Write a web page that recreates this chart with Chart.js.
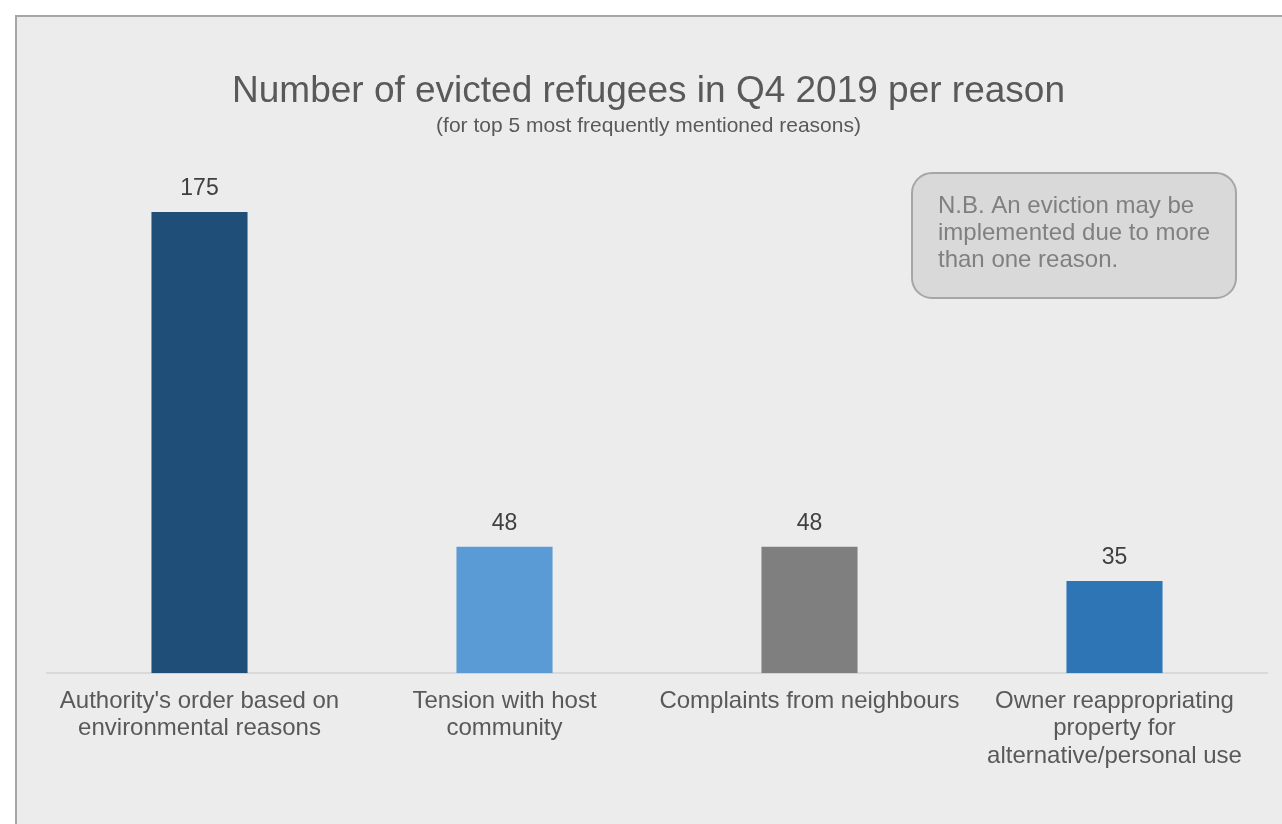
<!DOCTYPE html>
<html>
<head>
<meta charset="utf-8">
<script src="https://cdn.jsdelivr.net/npm/chart.js@4"></script>
<style>
    html, body { margin: 0; padding: 0; background: #ffffff; overflow: hidden; }
    #frame {
        position: absolute; left: 15px; top: 15px;
        width: 1265px; height: 807px;
        border-left: 2px solid #a6a6a6; border-top: 2px solid #a6a6a6;
        background: #ececec;
    }
</style>
</head>
<body>
<div id="frame"><canvas id="evictionsChart" width="1265" height="807"></canvas></div>
<script>
const reasons = [
    ["Authority's order based on", "environmental reasons"],
    ["Tension with host", "community"],
    ["Complaints from neighbours"],
    ["Owner reappropriating", "property for", "alternative/personal use"]
];
const evicted = [175, 48, 48, 35];
const barColors = ['#1f4e79', '#5b9bd5', '#7f7f7f', '#2e75b6'];
const titleText = 'Number of evicted refugees in Q4 2019 per reason';
const subtitleText = '(for top 5 most frequently mentioned reasons)';
const noteLines = ['N.B. An eviction may be', 'implemented due to more', 'than one reason.'];

const fontFamily = '"Liberation Sans", Arial, sans-serif';

// title, value labels above the bars and the grey note box
const extrasPlugin = {
    id: 'extras',
    afterDatasetsDraw(chart) {
        const ctx = chart.ctx;
        ctx.save();
        ctx.textAlign = 'center';
        ctx.textBaseline = 'middle';

        const mid = chart.width / 2 - 1;
        ctx.fillStyle = '#595959';
        ctx.font = '37px ' + fontFamily;
        ctx.fillText(titleText, mid, 75);
        ctx.font = '21px ' + fontFamily;
        ctx.fillText(subtitleText, mid, 109);

        ctx.fillStyle = '#404040';
        ctx.font = '23px ' + fontFamily;
        chart.getDatasetMeta(0).data.forEach((bar, i) => {
            ctx.fillText(evicted[i], bar.x, bar.y - 23);
        });

        const bx = 895, by = 156, bw = 324, bh = 125;
        ctx.beginPath();
        ctx.roundRect(bx, by, bw, bh, 20);
        ctx.fillStyle = '#d9d9d9';
        ctx.fill();
        ctx.lineWidth = 2;
        ctx.strokeStyle = '#a6a6a6';
        ctx.stroke();

        ctx.fillStyle = '#808080';
        ctx.textAlign = 'left';
        ctx.font = '24px ' + fontFamily;
        noteLines.forEach((line, i) => {
            ctx.fillText(line, 921, 189 + i * 27);
        });
        ctx.restore();
    }
};

new Chart(document.getElementById('evictionsChart').getContext('2d'), {
    type: 'bar',
    data: {
        labels: reasons,
        datasets: [{
            data: evicted,
            backgroundColor: barColors,
            barPercentage: 0.315,
            categoryPercentage: 1
        }]
    },
    options: {
        responsive: false,
        animation: false,
        layout: { padding: { top: 129, left: 30, right: 15, bottom: 40 } },
        scales: {
            x: {
                grid: { display: false, drawTicks: false },
                border: { display: true, color: '#d9d9d9', width: 2 },
                ticks: {
                    padding: 14,
                    color: '#595959',
                    font: { family: fontFamily, size: 24, lineHeight: 1.15 },
                    maxRotation: 0
                }
            },
            y: {
                display: false,
                min: 0,
                max: 200
            }
        },
        plugins: {
            legend: { display: false },
            tooltip: { enabled: false }
        }
    },
    plugins: [extrasPlugin]
});
</script>
</body>
</html>
